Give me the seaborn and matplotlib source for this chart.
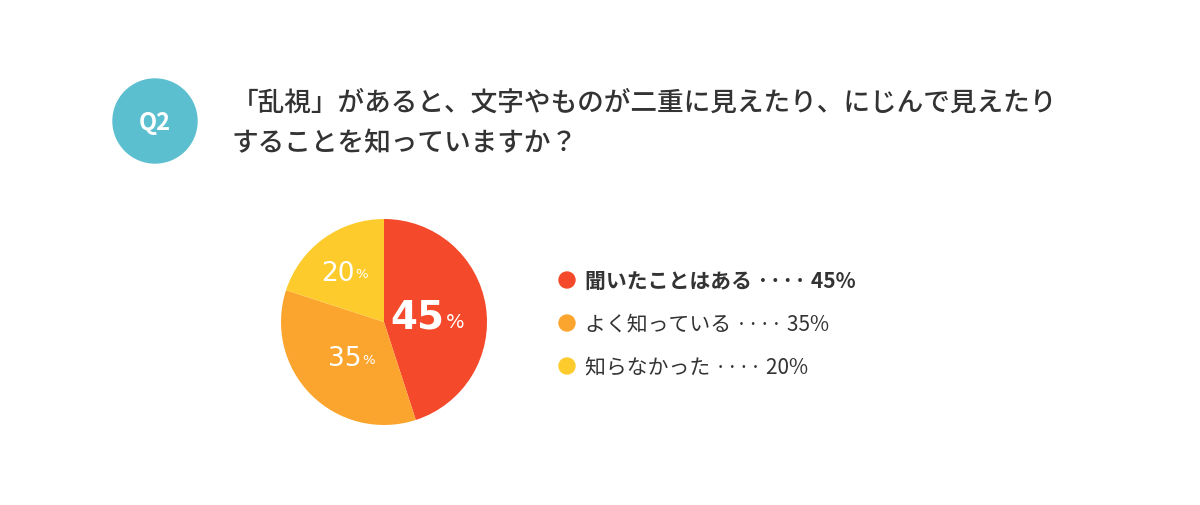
import matplotlib
matplotlib.use("Agg")
import matplotlib.pyplot as plt
import seaborn as sns
from matplotlib.patches import Circle

sns.set_theme(style="white")
plt.rcParams['font.family'] = ['Noto Sans CJK JP', 'DejaVu Sans']

labels = ["聞いたことはある", "よく知っている", "知らなかった"]
values = [45, 35, 20]
colors = ["#f4492a", "#fba52f", "#fdcc2c"]
question = ["「乱視」があると、文字やものが二重に見えたり、にじんで見えたり",
            "することを知っていますか？"]

W, H = 1200, 506
fig = plt.figure(figsize=(W/100, H/100), dpi=100)
fig.patch.set_facecolor("white")

def fx(x): return x / W
def fy(y): return 1 - y / H

bg = fig.add_axes([0, 0, 1, 1]); bg.set_xlim(0, W); bg.set_ylim(H, 0); bg.axis("off")
bg.add_patch(Circle((155, 122), 42, color="#5cbfcf"))
bg.text(155, 123, "Q2", color="white", fontsize=17, fontweight="bold", ha="center", va="center")
for i, line in enumerate(question):
    bg.text(232, 103 + 40*i, line, fontsize=19.2, color="#333333", ha="left", va="center",
            fontweight="medium")

ax = fig.add_axes([fx(281), fy(426), 206/W, 206/H])
ax.pie(values, colors=colors, startangle=90, counterclock=False,
       wedgeprops=dict(linewidth=0))
ax.set_xlim(-1, 1); ax.set_ylim(-1, 1)
ax.set_aspect("equal")
pos = [(0.32, 0.05, 28, True), (-0.38, -0.35, 19, False), (-0.45, 0.48, 19, False)]
for (x, y, fs, big), v in zip(pos, values):
    ax.text(x, y, f"{v}", fontsize=fs, color="white", ha="center", va="center",
            fontweight="bold" if big else "normal", family="DejaVu Sans")
    ax.annotate("%", (x, y), xytext=(21 if big else 12.5, -3 if big else -1),
                textcoords="offset points", fontsize=fs*0.5, color="white",
                ha="left", va="center", family="DejaVu Sans")

for i, (lab, v, c) in enumerate(zip(labels, values, colors)):
    y = 281 + 43*i
    bg.add_patch(Circle((567, y), 8, color=c))
    bg.text(585, y, f"{lab} ···· {v}%", fontsize=15, color="#333333", ha="left", va="center",
            fontweight="bold" if i == 0 else "normal")

fig.savefig("out.png", dpi=100, facecolor="white")
